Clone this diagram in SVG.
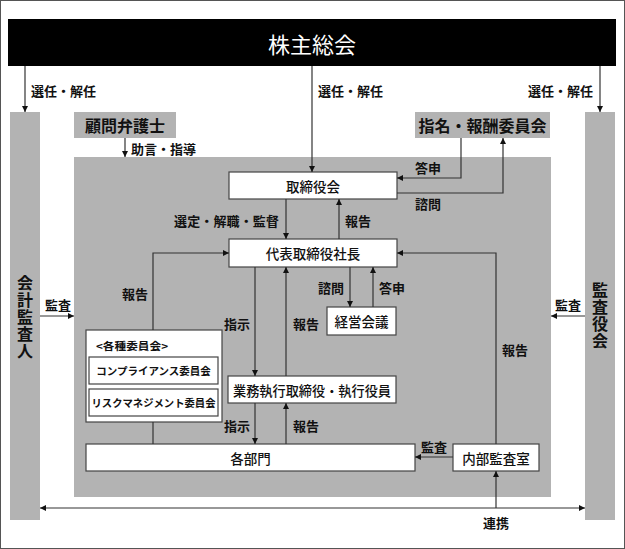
<svg xmlns="http://www.w3.org/2000/svg" width="625" height="549" viewBox="0 0 625 549">
<defs>
<marker id="ah" viewBox="0 0 6 6" refX="6" refY="3" markerWidth="6" markerHeight="6" markerUnits="userSpaceOnUse" orient="auto-start-reverse">
<path d="M0,0 L6,3 L0,6 z" fill="#111"/>
</marker>
<style>
text{font-family:"Noto Sans CJK JP","Noto Sans",sans-serif;fill:#111;dominant-baseline:central}
.lbl{font-size:13px;font-weight:bold}
.box{fill:#fff;stroke:#444;stroke-width:1.2}
.gbox{fill:#b3b3b3}
.bt{font-size:13.5px;text-anchor:middle;font-weight:500}
.gt{font-size:16px;font-weight:bold;text-anchor:middle}
.vt{font-size:16px;font-weight:bold;text-anchor:middle;writing-mode:vertical-rl;letter-spacing:1px}
.sm{font-size:10.5px;font-weight:bold}
.c path{fill:none;stroke:#333;stroke-width:1.2}
.a{marker-end:url(#ah)}
</style>
</defs>
<rect x="0.5" y="0.5" width="624" height="548" fill="#fff" stroke="#555"/>
<rect x="74" y="157" width="477" height="340" fill="#b3b3b3"/>

<g id="kabunushi">
<rect x="8" y="19" width="608" height="47" fill="#000"/>
<text x="312" y="43" style="fill:#fff;font-size:22px;text-anchor:middle">株主総会</text>
</g>
<g id="kaikei">
<rect class="gbox" x="10" y="112" width="30" height="408"/>
<text class="vt" x="25" y="317">会計監査人</text>
</g>
<g id="kansayakukai">
<rect class="gbox" x="585" y="112" width="30" height="408"/>
<text class="vt" x="600" y="316">監査役会</text>
</g>
<g id="komon">
<rect class="gbox" x="74" y="112" width="102" height="26"/>
<text class="gt" x="125" y="125">顧問弁護士</text>
</g>
<g id="shimei">
<rect class="gbox" x="415" y="112" width="135" height="26"/>
<text class="gt" x="482.5" y="125">指名・報酬委員会</text>
</g>
<g id="torishimariyakukai">
<rect class="box" x="229" y="172" width="168" height="27"/>
<text class="bt" x="313" y="185.5">取締役会</text>
</g>
<g id="daihyo">
<rect class="box" x="229" y="239" width="168" height="28"/>
<text class="bt" x="313" y="253">代表取締役社長</text>
</g>
<g id="keiei">
<rect class="box" x="327" y="307" width="69" height="28"/>
<text class="bt" x="361.5" y="321">経営会議</text>
</g>
<g id="gyomu">
<rect class="box" x="228" y="376" width="168" height="27"/>
<text class="bt" x="312" y="389.5" textLength="158" lengthAdjust="spacingAndGlyphs">業務執行取締役・執行役員</text>
</g>
<g id="kakushu">
<rect class="box" x="86" y="330" width="136" height="92"/>
<text class="sm" x="96" y="345" textLength="72" lengthAdjust="spacingAndGlyphs">&lt;各種委員会&gt;</text>
<rect class="box" x="89" y="357" width="129" height="27"/>
<text class="sm" x="153.5" y="370.5" text-anchor="middle">コンプライアンス委員会</text>
<rect class="box" x="89" y="389" width="129" height="27"/>
<text class="sm" x="153.5" y="402.5" text-anchor="middle" textLength="124" lengthAdjust="spacingAndGlyphs">リスクマネジメント委員会</text>
</g>
<g id="kakubumon">
<rect class="box" x="86" y="444" width="329" height="27"/>
<text class="bt" x="250.5" y="457.5">各部門</text>
</g>
<g id="naibu">
<rect class="box" x="453" y="444" width="86" height="27"/>
<text class="bt" x="496" y="457.5">内部監査室</text>
</g>

<g id="connectors" class="c">
<path class="a" d="M25,66 V112"/>
<path class="a" d="M312,66 V172"/>
<path class="a" d="M600,66 V112"/>
<path class="a" d="M125,138 V157"/>
<path class="a" d="M461,138 V178 H397"/>
<path class="a" d="M397,193 H503 V138"/>
<path class="a" d="M286,199 V239"/>
<path class="a" d="M339,239 V199"/>
<path class="a" d="M153,330 V253 H229"/>
<path class="a" d="M255,267 V376"/>
<path class="a" d="M286,376 V267"/>
<path class="a" d="M350,267 V307"/>
<path class="a" d="M373,307 V267"/>
<path class="a" d="M496,444 V253 H397"/>
<path class="a" d="M255,403 V444"/>
<path class="a" d="M286,444 V403"/>
<path d="M153,422 V444"/>
<path class="a" d="M453,457 H415"/>
<path class="a" d="M40,508 H585" style="marker-start:url(#ah)"/>
<path class="a" d="M496,508 V471"/>
<path class="a" d="M40,316 H74"/>
<path class="a" d="M585,316 H551"/>
</g>

<g id="labels">
<text class="lbl" x="31" y="90">選任・解任</text>
<text class="lbl" x="318" y="90">選任・解任</text>
<text class="lbl" x="528" y="90">選任・解任</text>
<text class="lbl" x="131" y="148">助言・指導</text>
<text class="lbl" x="415" y="167">答申</text>
<text class="lbl" x="415" y="203">諮問</text>
<text class="lbl" x="174" y="220" textLength="105" lengthAdjust="spacing">選定・解職・監督</text>
<text class="lbl" x="345" y="220">報告</text>
<text class="lbl" x="122" y="293">報告</text>
<text class="lbl" x="224" y="323">指示</text>
<text class="lbl" x="293" y="323">報告</text>
<text class="lbl" x="318" y="287">諮問</text>
<text class="lbl" x="379" y="287">答申</text>
<text class="lbl" x="502" y="349">報告</text>
<text class="lbl" x="45" y="304">監査</text>
<text class="lbl" x="555" y="304">監査</text>
<text class="lbl" x="224" y="425">指示</text>
<text class="lbl" x="293" y="425">報告</text>
<text class="lbl" x="421" y="446">監査</text>
<text class="lbl" x="483" y="522">連携</text>
</g>
</svg>
